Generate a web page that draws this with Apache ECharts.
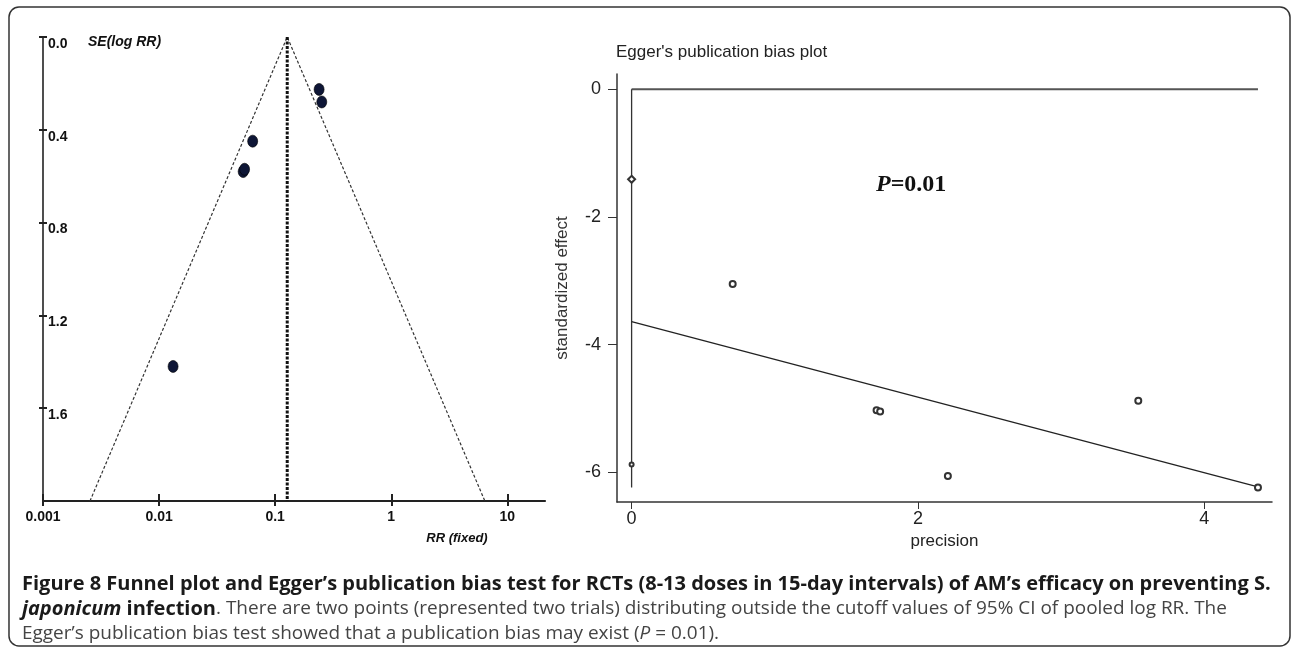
<!DOCTYPE html>
<html><head><meta charset="utf-8">
<script src="https://cdn.jsdelivr.net/npm/echarts@6/dist/echarts.min.js"></script>
<style>html,body{margin:0;padding:0;background:#fff}#c{width:1292px;height:651px}</style>
</head><body><div id="c"></div>
<script>
// ---- Funnel plot (left) ----
const funnelRR = [0.239, 0.252, 0.0640, 0.0530, 0.0545, 0.0132];
const funnelSE = [0.226, 0.280, 0.449, 0.580, 0.570, 1.420];
const pooledRR = 0.127;
const funnelLimitRR = [0.00254, 6.40];   // 95% limits at the bottom of the funnel
const funnelSEMax = 2.0;
const funnelXTicks = [0.001, 0.01, 0.1, 1, 10];
const funnelYTicks = [0, 0.4, 0.8, 1.2, 1.6];

// ---- Egger's plot (right) ----
const eggerPrecision = [0, 0, 0.706, 1.711, 1.736, 2.209, 3.539, 4.375];
const eggerStdEffect = [-1.41, -5.88, -3.05, -5.03, -5.05, -6.06, -4.88, -6.24];
const eggerFitX = [0, 4.375];
const eggerFitY = [-3.64, -6.23];
const eggerZeroLineX = [0, 4.375];
const eggerVerticalY = [0, -6.24];
const eggerXTicks = [0, 2, 4];
const eggerYTicks = [0, -2, -4, -6];

const captionLine1 = 'Figure 8 Funnel plot and Egger\u2019s publication bias test for RCTs (8-13 doses in 15-day intervals) of AM\u2019s efficacy on preventing S.';
const captionLine2a = 'japonicum';
const captionLine2b = ' infection';
const captionLine2c = '. There are two points (represented two trials) distributing outside the cutoff values of 95% CI of pooled log RR. The';
const captionLine3a = 'Egger\u2019s publication bias test showed that a publication bias may exist (';
const captionLine3b = 'P';
const captionLine3c = ' = 0.01).';

const SANS = '"Liberation Sans", Arial, sans-serif';
const CAP = '"Open Sans", "Noto Sans", sans-serif';

// fit caption font sizes to the measured widths of the reference
const mctx = document.createElement('canvas').getContext('2d');
function fitSize(text, weight, target) {
  mctx.font = weight + ' 20px "Open Sans"';
  return 20 * target / mctx.measureText(text).width;
}
const capBoldSize = fitSize(captionLine1, 'bold', 1250);
const capRegSize = fitSize(captionLine3a + captionLine3b + captionLine3c, 'normal', 698);

const chart = echarts.init(document.getElementById('c'), null, {renderer: 'canvas'});

const funnelPoints = funnelRR.map((r, i) => [r, funnelSE[i]]);
const eggerPoints = eggerPrecision.map((p, i) => ({
  value: [p, eggerStdEffect[i]],
  symbol: i === 0 ? 'emptyDiamond' : 'emptyCircle',
  symbolSize: i === 0 ? 7 : (i === 1 ? 4 : 6)
}));

const logFmt = v => String(+(+v).toPrecision(1));

const option = {
  animation: false,
  backgroundColor: '#fff',
  grid: [
    {left: 43, top: 37, width: 502, height: 464},
    {left: 617, top: 74, width: 655, height: 428}
  ],
  xAxis: [
    {gridIndex: 0, type: 'log', logBase: 10, min: 0.001, max: 21.1, position: 'bottom',
      axisLine: {onZero: false, lineStyle: {color: '#222', width: 2.2}},
      axisTick: {length: 5, customValues: funnelXTicks, lineStyle: {color: '#222', width: 2}},
      axisLabel: {customValues: funnelXTicks, formatter: logFmt, fontFamily: SANS, fontWeight: 'bold', fontSize: 14, color: '#111', margin: 9},
      splitLine: {show: false}},
    {gridIndex: 0, type: 'log', logBase: 10, min: 0.001, max: 21.1, position: 'bottom',
      axisLine: {show: false, onZero: false},
      axisTick: {inside: true, length: 7, customValues: funnelXTicks, lineStyle: {color: '#222', width: 2}},
      axisLabel: {show: false}, splitLine: {show: false}},
    {gridIndex: 1, type: 'value', min: -0.102, max: 4.473, position: 'bottom',
      name: 'precision', nameLocation: 'middle', nameGap: 28,
      nameTextStyle: {fontFamily: SANS, fontSize: 17, color: '#222'},
      axisLine: {onZero: false, lineStyle: {color: '#333', width: 1.5}},
      axisTick: {length: 7, customValues: eggerXTicks, lineStyle: {color: '#333'}},
      axisLabel: {customValues: eggerXTicks, fontFamily: SANS, fontSize: 18, color: '#222', margin: 8},
      splitLine: {show: false}}
  ],
  yAxis: [
    {gridIndex: 0, type: 'value', inverse: true, min: 0, max: funnelSEMax, position: 'left',
      axisLine: {onZero: false, lineStyle: {color: '#222', width: 1.6}},
      axisTick: {length: 4, customValues: funnelYTicks, lineStyle: {color: '#222', width: 2}},
      axisLabel: {inside: true, customValues: funnelYTicks, formatter: v => (+v).toFixed(1), verticalAlign: 'top',
        fontFamily: SANS, fontWeight: 'bold', fontSize: 14, color: '#111', margin: 5},
      splitLine: {show: false}},
    {gridIndex: 0, type: 'value', inverse: true, min: 0, max: funnelSEMax, position: 'left',
      axisLine: {show: false, onZero: false},
      axisTick: {inside: true, length: 4, customValues: funnelYTicks, lineStyle: {color: '#222', width: 2}},
      axisLabel: {show: false}, splitLine: {show: false}},
    {gridIndex: 1, type: 'value', min: -6.467, max: 0.24, position: 'left',
      name: 'standardized effect', nameLocation: 'middle', nameGap: 46, nameRotate: 90,
      nameTextStyle: {fontFamily: SANS, fontSize: 17, color: '#333'},
      axisLine: {onZero: false, lineStyle: {color: '#333', width: 1.5}},
      axisTick: {length: 9, customValues: eggerYTicks, lineStyle: {color: '#333'}},
      axisLabel: {customValues: eggerYTicks, fontFamily: SANS, fontSize: 18, color: '#222', margin: 16},
      splitLine: {show: false}}
  ],
  series: [
    {type: 'line', xAxisIndex: 0, yAxisIndex: 0, symbol: 'none',
      data: [[funnelLimitRR[0], funnelSEMax], [pooledRR, 0], [funnelLimitRR[1], funnelSEMax]],
      lineStyle: {color: '#333', width: 1.2, type: [3, 2]}},
    {type: 'line', xAxisIndex: 0, yAxisIndex: 0, symbol: 'none',
      data: [[pooledRR, 0], [pooledRR, funnelSEMax]],
      lineStyle: {color: '#111', width: 3, type: [3, 1.5]}},
    {type: 'scatter', xAxisIndex: 0, yAxisIndex: 0, symbol: 'circle', symbolSize: [10, 12],
      itemStyle: {color: '#0e1636', borderColor: '#000', borderWidth: 0.6, opacity: 1},
      data: funnelPoints},
    {type: 'line', xAxisIndex: 2, yAxisIndex: 2, symbol: 'none',
      data: eggerZeroLineX.map(x => [x, 0]),
      lineStyle: {color: '#555', width: 2}},
    {type: 'line', xAxisIndex: 2, yAxisIndex: 2, symbol: 'none',
      data: eggerVerticalY.map(y => [0, y]),
      lineStyle: {color: '#333', width: 1.3}},
    {type: 'line', xAxisIndex: 2, yAxisIndex: 2, symbol: 'none',
      data: eggerFitX.map((x, i) => [x, eggerFitY[i]]),
      lineStyle: {color: '#222', width: 1.3}},
    {type: 'scatter', xAxisIndex: 2, yAxisIndex: 2, z: 5,
      itemStyle: {color: '#333', borderColor: '#333', borderWidth: 0.8, opacity: 1},
      data: eggerPoints}
  ],
  graphic: [
    {type: 'rect', shape: {x: 9, y: 7, width: 1281, height: 639, r: 10}, silent: true,
      style: {fill: 'none', stroke: '#333', lineWidth: 1.5}},
    {type: 'text', x: 88, y: 35, silent: true,
      style: {text: 'SE(log RR)', font: 'italic bold 14px ' + SANS, fill: '#111', textVerticalAlign: 'top'}},
    {type: 'text', x: 457, y: 538, silent: true,
      style: {text: 'RR (fixed)', font: 'italic bold 13px ' + SANS, fill: '#111', textAlign: 'center', textVerticalAlign: 'middle'}},
    {type: 'text', x: 616, y: 52, silent: true,
      style: {text: "Egger's publication bias plot", font: '17px ' + SANS, fill: '#222', textVerticalAlign: 'middle'}},
    {type: 'text', x: 876, y: 185, silent: true,
      style: {text: '{p|P}{v|=0.01}', textVerticalAlign: 'middle',
        rich: {p: {fontFamily: '"Liberation Serif", serif', fontWeight: 'bold', fontStyle: 'italic', fontSize: 24, fill: '#111'},
               v: {fontFamily: '"Liberation Serif", serif', fontWeight: 'bold', fontSize: 24, fill: '#111'}}}},
    {type: 'text', x: 22, y: 584, silent: true,
      style: {text: captionLine1, fontFamily: CAP, fontWeight: 'bold', fontSize: capBoldSize, fill: '#1a1a1a', textVerticalAlign: 'middle'}},
    {type: 'text', x: 22, y: 609, silent: true,
      style: {text: '{bi|' + captionLine2a + '}{b|' + captionLine2b + '}{r|' + captionLine2c + '}', textVerticalAlign: 'middle',
        rich: {bi: {fontFamily: CAP, fontWeight: 'bold', fontStyle: 'italic', fontSize: capBoldSize, fill: '#1a1a1a'},
               b: {fontFamily: CAP, fontWeight: 'bold', fontSize: capBoldSize, fill: '#1a1a1a'},
               r: {fontFamily: CAP, fontSize: capRegSize, fill: '#444'}}}},
    {type: 'text', x: 22, y: 634, silent: true,
      style: {text: '{r|' + captionLine3a + '}{i|' + captionLine3b + '}{r|' + captionLine3c + '}', textVerticalAlign: 'middle',
        rich: {r: {fontFamily: CAP, fontSize: capRegSize, fill: '#444'},
               i: {fontFamily: CAP, fontStyle: 'italic', fontSize: capRegSize, fill: '#444'}}}}
  ]
};
chart.setOption(option);
</script></body></html>
